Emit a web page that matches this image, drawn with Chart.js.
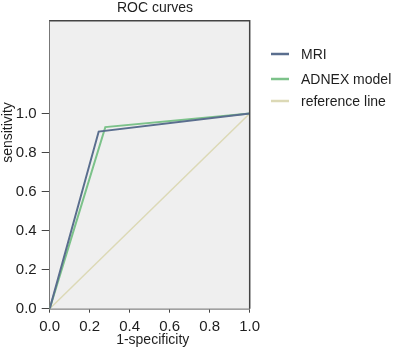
<!DOCTYPE html>
<html><head><meta charset="utf-8">
<script src="https://cdn.jsdelivr.net/npm/chart.js@4.4.1/dist/chart.umd.min.js"></script>
<style>html,body{margin:0;padding:0;background:#fff;}#wrap{width:393px;height:351px;position:relative;}</style>
</head><body><div id="wrap"><canvas id="c" width="393" height="351"></canvas></div>
<script>
const chartTitle = 'ROC curves';
const xAxisTitle = '1-specificity';
const yAxisTitle = 'sensitivity';
const seriesNames = ['MRI', 'ADNEX model', 'reference line'];
const mriX = [0, 0.245, 1];
const mriY = [0, 0.907, 1];
const adnexX = [0, 0.278, 1];
const adnexY = [0, 0.930, 1];
const refX = [0, 1];
const refY = [0, 1];
const tickValues = [0, 0.2, 0.4, 0.6, 0.8, 1.0];
const yAxisMax = 1.475;

const colors = ['#5a6e8e', '#7cc28a', '#dcd9b6'];
const FONT = '"Liberation Sans", Arial, sans-serif';
const toPts = (xs, ys) => xs.map((x, i) => ({x: x, y: ys[i]}));

const decor = {
  id: 'decor',
  beforeDatasetsDraw(chart) {
    const {ctx, chartArea: a} = chart;
    ctx.save();
    ctx.fillStyle = '#efefef';
    ctx.fillRect(a.left, a.top, a.right - a.left, a.bottom - a.top);
    ctx.restore();
  },
  afterDraw(chart) {
    const {ctx, chartArea: a} = chart;
    ctx.save();
    ctx.strokeStyle = '#444';
    ctx.lineWidth = 1.5;
    ctx.beginPath();
    ctx.moveTo(a.left, a.top); ctx.lineTo(a.right, a.top); ctx.lineTo(a.right, a.bottom);
    ctx.stroke();
    ctx.fillStyle = '#1e1e1e';
    ctx.textAlign = 'center'; ctx.textBaseline = 'middle';
    ctx.font = '14px ' + FONT;
    ctx.fillText(chartTitle, 155, 8);
    ctx.fillText(xAxisTitle, (a.left + a.right) / 2 + 3, 340);
    ctx.save();
    ctx.translate(8, 132.5); ctx.rotate(-Math.PI / 2);
    ctx.fillText(yAxisTitle, 0, 0);
    ctx.restore();
    // legend
    ctx.font = '14px ' + FONT;
    ctx.textAlign = 'left';
    const ys = [54, 79, 101];
    chart.data.datasets.forEach((ds, i) => {
      const y = ys[i];
      ctx.strokeStyle = ds.borderColor; ctx.lineWidth = 2.5;
      ctx.beginPath(); ctx.moveTo(271, y); ctx.lineTo(289, y); ctx.stroke();
      ctx.fillStyle = '#1e1e1e';
      ctx.fillText(ds.label, 301, y + 1);
    });
    ctx.restore();
  }
};

new Chart(document.getElementById('c'), {
  type: 'line',
  data: {
    datasets: [
      {label: seriesNames[0], data: toPts(mriX, mriY), borderColor: colors[0], order: 1},
      {label: seriesNames[1], data: toPts(adnexX, adnexY), borderColor: colors[1], order: 2},
      {label: seriesNames[2], data: toPts(refX, refY), borderColor: colors[2], borderWidth: 1.5, order: 3}
    ]
  },
  options: {
    responsive: false, animation: false, devicePixelRatio: 1,
    layout: {padding: {left: 0, right: 143.3, top: 20.7, bottom: 0}},
    elements: {line: {borderWidth: 2, tension: 0, fill: false}, point: {radius: 0}},
    plugins: {legend: {display: false}, title: {display: false}, tooltip: {enabled: false}},
    scales: {
      x: {
        type: 'linear', min: 0, max: 1,
        afterBuildTicks: s => { s.ticks = tickValues.map(v => ({value: v})); },
        afterFit: s => { s.height = 42.3; },
        grid: {display: true, drawOnChartArea: false, drawTicks: true, tickLength: 4, color: '#444'},
        border: {display: true, color: '#444', width: 1.5},
        ticks: {color: '#1e1e1e', padding: 5, maxRotation: 0, font: {size: 15, family: FONT}, callback: v => v.toFixed(1)}
      },
      y: {
        type: 'linear', min: 0, max: yAxisMax,
        afterBuildTicks: s => { s.ticks = tickValues.map(v => ({value: v})); },
        afterFit: s => { s.width = 49.7; },
        grid: {display: true, drawOnChartArea: false, drawTicks: true, tickLength: 8, color: '#444'},
        border: {display: true, color: '#444', width: 1.5},
        ticks: {color: '#1e1e1e', padding: 5, font: {size: 15, family: FONT}, callback: v => v.toFixed(1)}
      }
    }
  },
  plugins: [decor]
});
</script></body></html>
